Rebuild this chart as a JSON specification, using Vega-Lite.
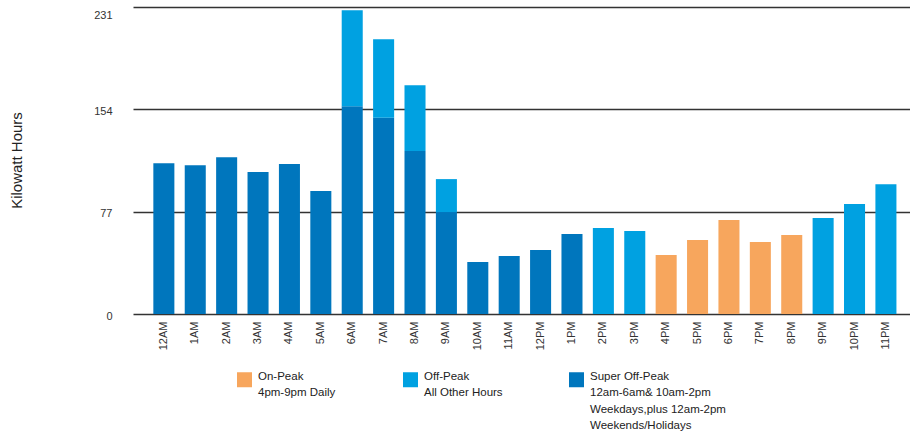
{
  "$schema": "https://vega.github.io/schema/vega-lite/v6.json",
  "autosize": "none",
  "width": 777,
  "height": 307,
  "padding": {"left": 133, "top": 7, "right": 0, "bottom": 121},
  "background": "white",
  "config": {
    "view": {"stroke": null},
    "font": "Liberation Sans",
    "style": {"guide-label": {"lineHeight": 16.5}}
  },
  "data": {
    "values": [
      {"hour": "12AM", "category": "Super Off-Peak", "kwh": 113.5},
      {"hour": "1AM", "category": "Super Off-Peak", "kwh": 112},
      {"hour": "2AM", "category": "Super Off-Peak", "kwh": 118},
      {"hour": "3AM", "category": "Super Off-Peak", "kwh": 106.8},
      {"hour": "4AM", "category": "Super Off-Peak", "kwh": 112.8},
      {"hour": "5AM", "category": "Super Off-Peak", "kwh": 92.5},
      {"hour": "6AM", "category": "Super Off-Peak", "kwh": 156.4},
      {"hour": "6AM", "category": "Off-Peak", "kwh": 72.2},
      {"hour": "7AM", "category": "Super Off-Peak", "kwh": 147.6},
      {"hour": "7AM", "category": "Off-Peak", "kwh": 59.2},
      {"hour": "8AM", "category": "Super Off-Peak", "kwh": 122.6},
      {"hour": "8AM", "category": "Off-Peak", "kwh": 49.6},
      {"hour": "9AM", "category": "Super Off-Peak", "kwh": 76.7},
      {"hour": "9AM", "category": "Off-Peak", "kwh": 24.8},
      {"hour": "10AM", "category": "Super Off-Peak", "kwh": 39.1},
      {"hour": "11AM", "category": "Super Off-Peak", "kwh": 43.6},
      {"hour": "12PM", "category": "Super Off-Peak", "kwh": 48.1},
      {"hour": "1PM", "category": "Super Off-Peak", "kwh": 60.2},
      {"hour": "2PM", "category": "Off-Peak", "kwh": 64.7},
      {"hour": "3PM", "category": "Off-Peak", "kwh": 62.4},
      {"hour": "4PM", "category": "On-Peak", "kwh": 44.4},
      {"hour": "5PM", "category": "On-Peak", "kwh": 55.6},
      {"hour": "6PM", "category": "On-Peak", "kwh": 70.7},
      {"hour": "7PM", "category": "On-Peak", "kwh": 54.1},
      {"hour": "8PM", "category": "On-Peak", "kwh": 59.4},
      {"hour": "9PM", "category": "Off-Peak", "kwh": 72.2},
      {"hour": "10PM", "category": "Off-Peak", "kwh": 82.7},
      {"hour": "11PM", "category": "Off-Peak", "kwh": 97.7}
    ]
  },
  "mark": {"type": "bar"},
  "encoding": {
    "x": {
      "field": "hour",
      "type": "ordinal",
      "sort": ["12AM","1AM","2AM","3AM","4AM","5AM","6AM","7AM","8AM","9AM","10AM","11AM","12PM","1PM","2PM","3PM","4PM","5PM","6PM","7PM","8PM","9PM","10PM","11PM"],
      "scale": {"paddingInner": 0.33, "paddingOuter": 0.54, "align": 0.6},
      "axis": {
        "title": null,
        "labelAngle": -90,
        "labelAlign": "right",
        "labelBaseline": "middle",
        "labelPadding": 7,
        "labelFontSize": 11,
        "labelColor": "#333",
        "ticks": false,
        "domain": false,
        "grid": false
      }
    },
    "y": {
      "field": "kwh",
      "type": "quantitative",
      "stack": "zero",
      "scale": {"domain": [0, 231], "nice": false},
      "axis": {
        "title": "Kilowatt Hours",
        "titleFontSize": 15,
        "titleFontWeight": "normal",
        "titleColor": "#222",
        "titleAngle": -90,
        "titleX": -112,
        "titleY": 153,
        "titleBaseline": "alphabetic",
        "titleAlign": "center",
        "values": [0, 77, 154, 231],
        "labelFontSize": 11,
        "labelColor": "#333",
        "labelPadding": 21,
        "labelFlush": false,
        "labelOffset": 2,
        "labelBaseline": {"condition": {"test": "datum.value == 231", "value": "top"}, "value": "middle"},
        "ticks": false,
        "tickSize": 0,
        "domain": false,
        "grid": true,
        "gridColor": "#333",
        "gridWidth": 1.3
      }
    },
    "color": {
      "field": "category",
      "type": "nominal",
      "scale": {
        "domain": ["On-Peak", "Off-Peak", "Super Off-Peak"],
        "range": ["#F7A65D", "#00A1E1", "#0076BD"]
      },
      "legend": {
        "title": null,
        "orient": "none",
        "legendX": 104,
        "legendY": 365,
        "direction": "horizontal",
        "columns": 3,
        "gridAlign": "all",
        "columnPadding": 9,
        "padding": 0,
        "symbolType": "square",
        "symbolSize": 225,
        "symbolStrokeWidth": 0,
        "symbolOpacity": 1,
        "labelFont": "Liberation Sans",
        "labelFontSize": 11.5,
        "labelColor": "#222",
        "labelBaseline": "alphabetic",
        "labelOffset": 6,
        "labelLimit": 200,
        "labelExpr": "datum.label == 'On-Peak' ? ['On-Peak', '4pm-9pm Daily', '', ''] : datum.label == 'Off-Peak' ? ['Off-Peak', 'All Other Hours', '', ''] : ['Super Off-Peak', '12am-6am& 10am-2pm', 'Weekdays,plus 12am-2pm', 'Weekends/Holidays']"
      }
    },
    "order": {"field": "category", "sort": "descending"}
  }
}
